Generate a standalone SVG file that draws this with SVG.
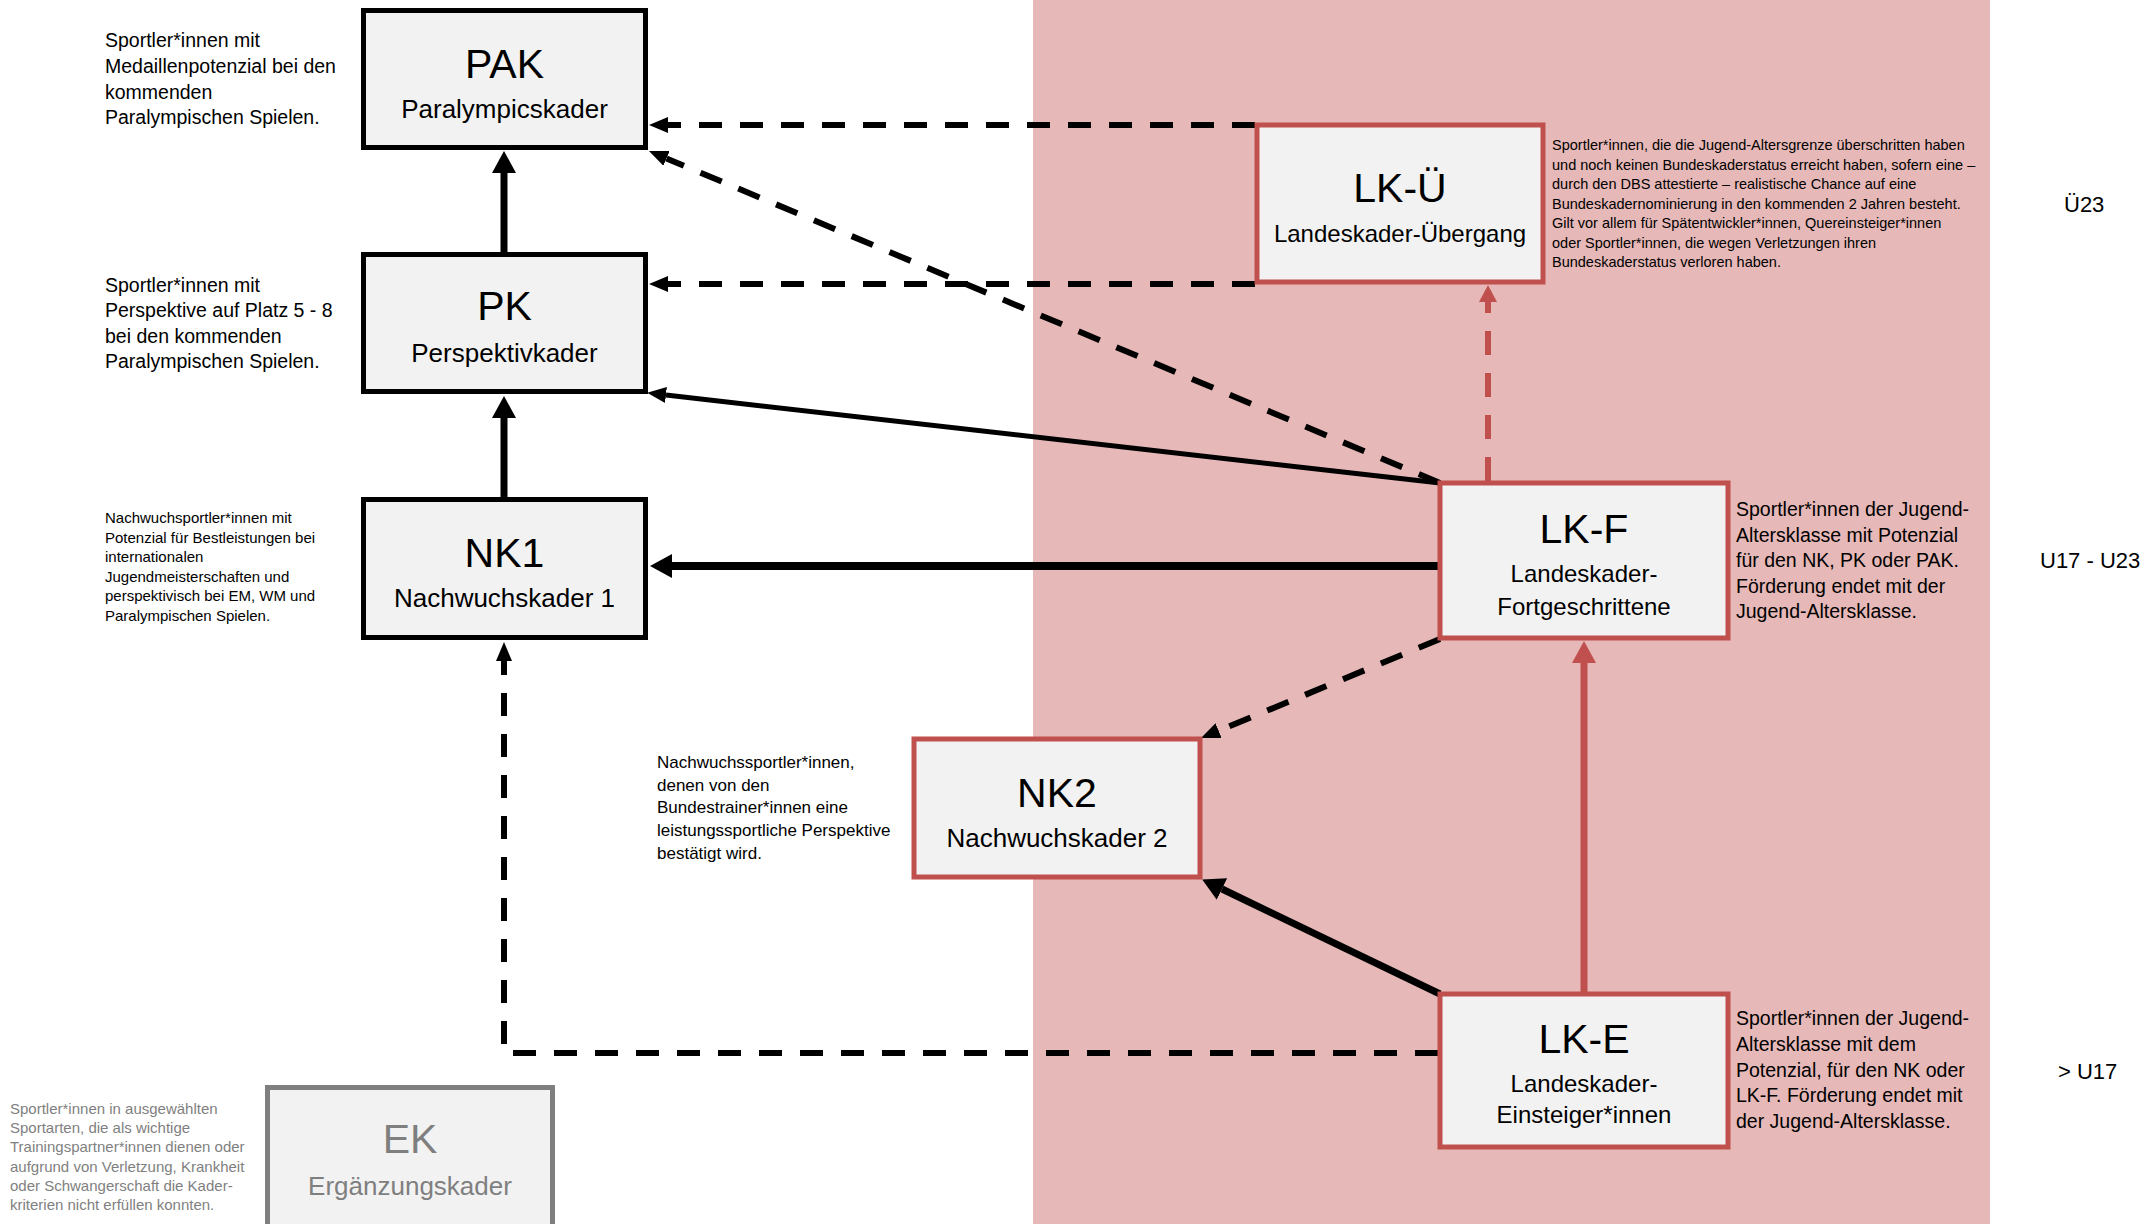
<svg xmlns="http://www.w3.org/2000/svg" width="2156" height="1224" viewBox="0 0 2156 1224">
<style>
text{font-family:"Liberation Sans",Arial,sans-serif;fill:#000}
.box{fill:#F2F2F2;stroke:#000;stroke-width:5}
.rbox{fill:#F2F2F2;stroke:#C0504D;stroke-width:5}
.gbox{fill:#F2F2F2;stroke:#7F7F7F;stroke-width:5}
.t{font-size:41px;text-anchor:middle}
.s{font-size:26px;text-anchor:middle}
.s2{font-size:24px;text-anchor:middle}
.d19{font-size:19.5px}
.d15{font-size:15px}
.d17{font-size:17px}
.d14{font-size:14.5px}
.age{font-size:22px}
.gray{fill:#7F7F7F}
.solid{fill:none;stroke:#000}
.dash{fill:none;stroke:#000;stroke-width:6;stroke-dasharray:23 18}
.rsolid{fill:none;stroke:#C0504D;stroke-width:7}
.rdash{fill:none;stroke:#C0504D;stroke-width:6;stroke-dasharray:24 18}
</style>
<defs>
<marker id="hL" viewBox="0 -12 22 24" markerWidth="22" markerHeight="24" refX="0" refY="0" orient="auto" markerUnits="userSpaceOnUse"><path d="M0,-12 L22,0 L0,12 z" fill="#000"/></marker>
<marker id="hM" viewBox="0 -8 19 16" markerWidth="19" markerHeight="16" refX="0" refY="0" orient="auto" markerUnits="userSpaceOnUse"><path d="M0,-8 L19,0 L0,8 z" fill="#000"/></marker>
<marker id="hRL" viewBox="0 -12 22 24" markerWidth="22" markerHeight="24" refX="0" refY="0" orient="auto" markerUnits="userSpaceOnUse"><path d="M0,-12 L22,0 L0,12 z" fill="#C0504D"/></marker>
<marker id="hRM" viewBox="0 -9 17 18" markerWidth="17" markerHeight="18" refX="0" refY="0" orient="auto" markerUnits="userSpaceOnUse"><path d="M0,-9 L17,0 L0,9 z" fill="#C0504D"/></marker>
</defs>
<rect x="0" y="0" width="2156" height="1224" fill="#FFFFFF"/>
<rect id="landeskader-bereich" x="1033" y="0" width="957" height="1224" fill="#E6B8B7"/>

<g id="connectors">
<line class="solid" stroke-width="7" x1="504" y1="252" x2="504" y2="173" marker-end="url(#hL)"/>
<line class="solid" stroke-width="7" x1="504" y1="497" x2="504" y2="418" marker-end="url(#hL)"/>
<line class="solid" stroke-width="8" x1="1438" y1="566" x2="672" y2="566" marker-end="url(#hL)"/>
<line class="solid" stroke-width="5" x1="1440" y1="483" x2="666" y2="395" marker-end="url(#hM)"/>
<line class="solid" stroke-width="7" x1="1440" y1="994" x2="1222" y2="889" marker-end="url(#hL)"/>
<line class="dash" x1="1440" y1="483" x2="666.5" y2="158.4" marker-end="url(#hM)"/>
<line class="dash" x1="1255" y1="125" x2="668" y2="125" marker-end="url(#hM)"/>
<line class="dash" x1="1255" y1="284" x2="668" y2="284" marker-end="url(#hM)"/>
<line class="dash" x1="1440" y1="639" x2="1218.6" y2="730.7" marker-end="url(#hM)"/>
<polyline class="dash" points="1438,1053 504,1053 504,661" marker-end="url(#hM)"/>
<line class="rsolid" x1="1584" y1="992" x2="1584" y2="663" marker-end="url(#hRL)"/>
<line class="rdash" x1="1488" y1="481" x2="1488" y2="302" marker-end="url(#hRM)"/>
</g>

<g id="PAK">
<rect class="box" x="363.5" y="10.5" width="282" height="137"/>
<text class="t" x="504.5" y="78">PAK</text>
<text class="s" x="504.5" y="118">Paralympicskader</text>
</g>
<g id="PK">
<rect class="box" x="363.5" y="254.5" width="282" height="137"/>
<text class="t" x="504.5" y="320">PK</text>
<text class="s" x="504.5" y="362">Perspektivkader</text>
</g>
<g id="NK1">
<rect class="box" x="363.5" y="499.5" width="282" height="138"/>
<text class="t" x="504.5" y="567">NK1</text>
<text class="s" x="504.5" y="607">Nachwuchskader 1</text>
</g>
<g id="NK2">
<rect class="rbox" x="914" y="739" width="286" height="138"/>
<text class="t" x="1057" y="807">NK2</text>
<text class="s" x="1057" y="847">Nachwuchskader 2</text>
</g>
<g id="LK-Ue">
<rect class="rbox" x="1257" y="125" width="286" height="157"/>
<text class="t" x="1400" y="202">LK-Ü</text>
<text class="s2" x="1400" y="242">Landeskader-Übergang</text>
</g>
<g id="LK-F">
<rect class="rbox" x="1440" y="483" width="288" height="155"/>
<text class="t" x="1584" y="543">LK-F</text>
<text class="s2" x="1584" y="582">Landeskader-</text>
<text class="s2" x="1584" y="615">Fortgeschrittene</text>
</g>
<g id="LK-E">
<rect class="rbox" x="1440" y="994" width="288" height="153"/>
<text class="t" x="1584" y="1053">LK-E</text>
<text class="s2" x="1584" y="1092">Landeskader-</text>
<text class="s2" x="1584" y="1123">Einsteiger*innen</text>
</g>
<g id="EK">
<rect class="gbox" x="267.5" y="1087.5" width="285" height="150"/>
<text class="t gray" x="410" y="1153">EK</text>
<text class="s gray" x="410" y="1195">Ergänzungskader</text>
</g>

<g id="beschreibungen">
<text class="d19" x="105" y="47">Sportler*innen mit</text>
<text class="d19" x="105" y="73">Medaillenpotenzial bei den</text>
<text class="d19" x="105" y="99">kommenden</text>
<text class="d19" x="105" y="124">Paralympischen Spielen.</text>

<text class="d19" x="105" y="292">Sportler*innen mit</text>
<text class="d19" x="105" y="317">Perspektive auf Platz 5 - 8</text>
<text class="d19" x="105" y="343">bei den kommenden</text>
<text class="d19" x="105" y="368">Paralympischen Spielen.</text>

<text class="d15" x="105" y="523">Nachwuchsportler*innen mit</text>
<text class="d15" x="105" y="542.5">Potenzial für Bestleistungen bei</text>
<text class="d15" x="105" y="562">internationalen</text>
<text class="d15" x="105" y="581.5">Jugendmeisterschaften und</text>
<text class="d15" x="105" y="601">perspektivisch bei EM, WM und</text>
<text class="d15" x="105" y="620.5">Paralympischen Spielen.</text>

<text class="d17" x="657" y="768">Nachwuchssportler*innen,</text>
<text class="d17" x="657" y="790.5">denen von den</text>
<text class="d17" x="657" y="813">Bundestrainer*innen eine</text>
<text class="d17" x="657" y="836">leistungssportliche Perspektive</text>
<text class="d17" x="657" y="859">bestätigt wird.</text>

<text class="d14" x="1552" y="150">Sportler*innen, die die Jugend-Altersgrenze überschritten haben</text>
<text class="d14" x="1552" y="169.5">und noch keinen Bundeskaderstatus erreicht haben, sofern eine –</text>
<text class="d14" x="1552" y="189">durch den DBS attestierte – realistische Chance auf eine</text>
<text class="d14" x="1552" y="208.5">Bundeskadernominierung in den kommenden 2 Jahren besteht.</text>
<text class="d14" x="1552" y="228">Gilt vor allem für Spätentwickler*innen, Quereinsteiger*innen</text>
<text class="d14" x="1552" y="247.5">oder Sportler*innen, die wegen Verletzungen ihren</text>
<text class="d14" x="1552" y="267">Bundeskaderstatus verloren haben.</text>

<text class="d19" x="1736" y="516">Sportler*innen der Jugend-</text>
<text class="d19" x="1736" y="542">Altersklasse mit Potenzial</text>
<text class="d19" x="1736" y="567">für den NK, PK oder PAK.</text>
<text class="d19" x="1736" y="593">Förderung endet mit der</text>
<text class="d19" x="1736" y="618">Jugend-Altersklasse.</text>

<text class="d19" x="1736" y="1025">Sportler*innen der Jugend-</text>
<text class="d19" x="1736" y="1051">Altersklasse mit dem</text>
<text class="d19" x="1736" y="1077">Potenzial, für den NK oder</text>
<text class="d19" x="1736" y="1102">LK-F. Förderung endet mit</text>
<text class="d19" x="1736" y="1128">der Jugend-Altersklasse.</text>

<text class="d15 gray" x="10" y="1114">Sportler*innen in ausgewählten</text>
<text class="d15 gray" x="10" y="1133">Sportarten, die als wichtige</text>
<text class="d15 gray" x="10" y="1152">Trainingspartner*innen dienen oder</text>
<text class="d15 gray" x="10" y="1172">aufgrund von Verletzung, Krankheit</text>
<text class="d15 gray" x="10" y="1191">oder Schwangerschaft die Kader-</text>
<text class="d15 gray" x="10" y="1210">kriterien nicht erfüllen konnten.</text>
</g>

<g id="altersklassen">
<text class="age" x="2064" y="212">Ü23</text>
<text class="age" x="2040" y="568">U17 - U23</text>
<text class="age" x="2058" y="1079">&gt; U17</text>
</g>
</svg>
